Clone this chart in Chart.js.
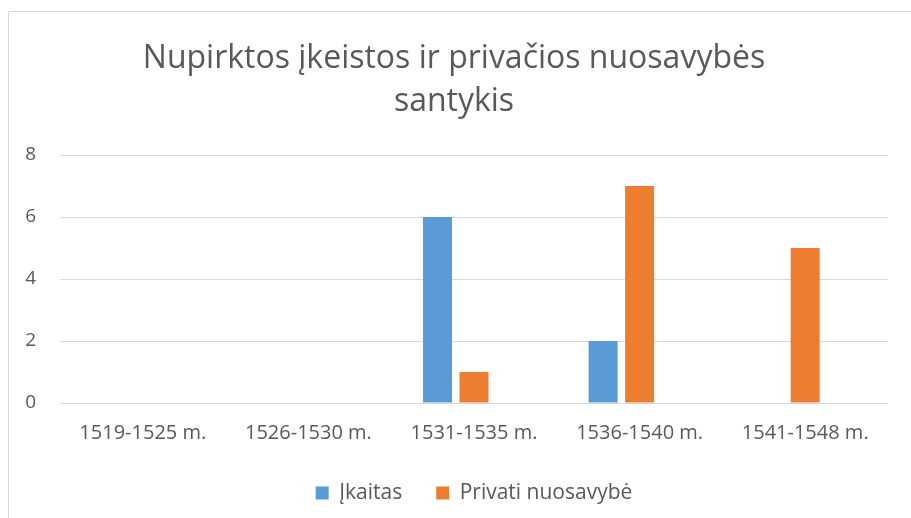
<!DOCTYPE html>
<html>
<head>
<meta charset="utf-8">
<script src="https://cdn.jsdelivr.net/npm/chart.js@4/dist/chart.umd.min.js"></script>
<style>
  html, body { margin: 0; padding: 0; background: #fff; }
  #wrap { width: 911px; height: 518px; position: relative; }
</style>
</head>
<body>
<div id="wrap"><canvas id="c" width="911" height="518"></canvas></div>
<script>
const titleLines = ['Nupirktos įkeistos ir privačios nuosavybės', 'santykis'];
const categories = ['1519-1525 m.', '1526-1530 m.', '1531-1535 m.', '1536-1540 m.', '1541-1548 m.'];
const seriesNames = ['Įkaitas', 'Privati nuosavybė', ''];
const ikaitas = [0, 0, 6, 2, 0];
const privati = [0, 0, 1, 7, 5];
const emptySeries = [null, null, null, null, null];
const yTicks = [0, 2, 4, 6, 8];

const frame = {
  id: 'frame',
  beforeDraw(chart) {
    const ctx = chart.ctx;
    ctx.save();
    ctx.fillStyle = '#fff';
    ctx.fillRect(0, 0, chart.width, chart.height);
    ctx.strokeStyle = '#D9D9D9';
    ctx.lineWidth = 1;
    ctx.beginPath();
    ctx.moveTo(8.5, chart.height);
    ctx.lineTo(8.5, 11.5);
    ctx.lineTo(chart.width, 11.5);
    ctx.stroke();
    ctx.restore();
  }
};

new Chart(document.getElementById('c'), {
  type: 'bar',
  data: {
    labels: categories,
    datasets: [
      { label: seriesNames[0], data: ikaitas, backgroundColor: '#5B9BD5' },
      { label: seriesNames[1], data: privati, backgroundColor: '#ED7D31' },
      { label: seriesNames[2], data: emptySeries, backgroundColor: 'rgba(0,0,0,0)' }
    ]
  },
  options: {
    responsive: false,
    animation: false,
    devicePixelRatio: 1,
    datasets: { bar: { barPercentage: 0.795, categoryPercentage: 0.661 } },
    layout: { padding: { left: 20, right: 23, top: 0, bottom: 4.5 } },
    plugins: {
      title: {
        display: true,
        text: titleLines,
        color: '#595959',
        font: { family: 'Open Sans', size: 32, weight: 'normal', lineHeight: 1.344 },
        padding: { top: 37, bottom: 32 }
      },
      legend: {
        position: 'bottom',
        fullSize: false,
        labels: {
          filter: (item) => item.text !== '',
          color: '#595959',
          font: { family: 'Open Sans', size: 21 },
          boxWidth: 13,
          boxHeight: 13,
          padding: 34
        }
      },
      tooltip: { enabled: false }
    },
    scales: {
      x: {
        afterFit: (scale) => { scale.height = 45.5; },
        grid: { display: false, drawTicks: false },
        border: { display: false },
        ticks: { color: '#595959', font: { family: 'Open Sans', size: 20 }, padding: 18, maxRotation: 0 }
      },
      y: {
        min: 0, max: 8,
        afterBuildTicks: (scale) => { scale.ticks = yTicks.map(v => ({ value: v })); },
        afterFit: (scale) => { scale.width = 40; },
        grid: { color: '#D9D9D9', lineWidth: 1, drawTicks: false },
        border: { display: false },
        ticks: { color: '#595959', font: { family: 'Open Sans', size: 19 }, padding: 24 }
      }
    }
  },
  plugins: [frame]
});
</script>
</body>
</html>
